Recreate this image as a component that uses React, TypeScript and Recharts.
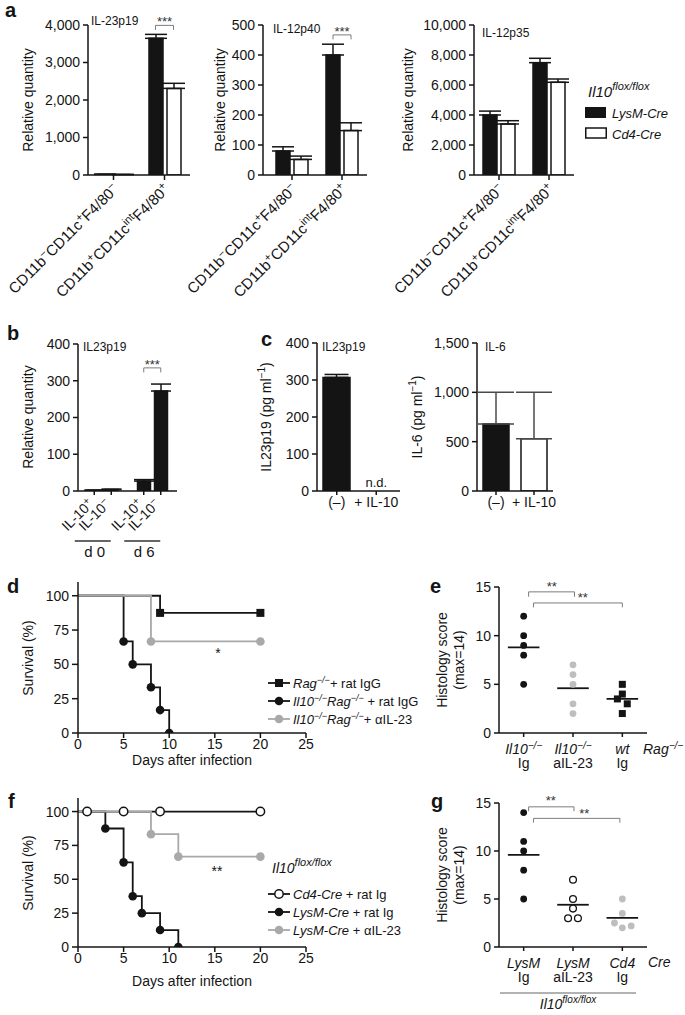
import React from "react";
import {
  BarChart,
  Bar,
  XAxis,
  YAxis,
  ErrorBar,
  Cell,
  ReferenceDot,
  ReferenceLine,
  LineChart,
  Line,
  ScatterChart,
  Scatter,
} from "recharts";

const FONT = "'Liberation Sans', Arial, Helvetica, sans-serif";
const INK = "#141414";
const GREY = "#a9a9a9";
const PALE = "#bebebe";
const BRACKET = "#7c7c7c";

// ---- a: relative quantity in sorted cells (LysM-Cre vs Cd4-Cre)
const CELL_KEYS = ["neg", "pos"];
const P19_LYSM = [18, 3645];
const P19_LYSM_ERR = [4, 105];
const P19_CD4 = [12, 2310];
const P19_CD4_ERR = [3, 135];
const P40_LYSM = [80, 400];
const P40_LYSM_ERR = [14, 36];
const P40_CD4 = [52, 148];
const P40_CD4_ERR = [11, 26];
const P35_LYSM = [4000, 7490];
const P35_LYSM_ERR = [260, 290];
const P35_CD4 = [3400, 6180];
const P35_CD4_ERR = [220, 220];
const TICKS_P19 = [0, 1000, 2000, 3000, 4000];
const TICKS_P40 = [0, 100, 200, 300, 400, 500];
const TICKS_P35 = [0, 2000, 4000, 6000, 8000, 10000];

// ---- b: IL23p19 at day 0 / day 6
const B_DAYS = ["d 0", "d 6"];
const B_POS = [2, 27];
const B_POS_ERR = [0.5, 4];
const B_NEG = [4, 272];
const B_NEG_ERR = [1, 19];
const TICKS_400 = [0, 100, 200, 300, 400];

// ---- c: protein (pg/ml)
const C_TREAT = ["(\u2013)", "+ IL-10"];
const C_P19 = [307, 0];
const C_P19_ERR = [8, 0];
const C_IL6 = [680, 530];
const C_IL6_ERR = [320, 470];
const TICKS_IL6 = [0, 500, 1000, 1500];

// ---- d / f: survival
const DAY_TICKS = [0, 5, 10, 15, 20, 25];
const SURV_TICKS = [0, 25, 50, 75, 100];
const D_RAG_DAYS = [0, 9, 20];
const D_RAG_SURV = [100, 87.5, 87.5];
const D_KO_DAYS = [0, 5, 6, 8, 9, 10];
const D_KO_SURV = [100, 66.7, 50, 33.3, 16.7, 0];
const D_AB_DAYS = [0, 8, 20];
const D_AB_SURV = [100, 66.7, 66.7];
const F_CD4_DAYS = [0, 1, 5, 9, 20];
const F_CD4_SURV = [100, 100, 100, 100, 100];
const F_LYSM_DAYS = [0, 3, 5, 6, 7, 9, 11];
const F_LYSM_SURV = [100, 87.5, 62.5, 37.5, 25, 12.5, 0];
const F_AB_DAYS = [0, 8, 11, 20];
const F_AB_SURV = [100, 83.3, 66.7, 66.7];

// ---- e / g: histology scores
const SCORE_TICKS = [0, 5, 10, 15];
const E_KO_IG = [12, 10, 9, 8, 5];
const E_KO_AB = [7, 6, 5, 3, 2];
const E_WT_IG = [5, 4, 3.5, 3, 2];
const E_WT_JITTER = [0, 0, -0.1, 0.1, 0];
const G_LYSM_IG = [14, 11, 10, 8, 5];
const G_LYSM_AB = [7, 5, 4, 3, 3];
const G_LYSM_AB_JITTER = [0, 0, 0, -0.1, 0.1];
const G_CD4_IG = [5, 3.5, 2.5, 2, 2.2];
const G_CD4_JITTER = [0, 0, -0.16, 0, 0.18];

type Part = { t: string; sup?: boolean; it?: boolean };
const tx = (t: string): Part => ({ t });
const it = (t: string): Part => ({ t, it: true });
const sup = (t: string, itl = false): Part => ({ t, sup: true, it: itl });

const MINUS = "\u2212";
const KO = (): Part[] => [it("Il10"), sup(`${MINUS}/${MINUS}`, true)];
const RAG = (): Part[] => [it("Rag"), sup(`${MINUS}/${MINUS}`, true)];
const FLOX = (): Part[] => [it("Il10"), sup("flox/flox", true)];

const CELL_LABELS: Part[][] = [
  [tx("CD11b"), sup(MINUS), tx("CD11c"), sup("+"), tx("F4/80"), sup(MINUS)],
  [tx("CD11b"), sup("+"), tx("CD11c"), sup("int"), tx("F4/80"), sup("+")],
];
const IL10_LABELS: Part[][] = [
  [tx("IL-10"), sup("+")],
  [tx("IL-10"), sup(MINUS)],
];

function spans(parts: Part[], size: number, supSize = size * 0.72, lift = size * 0.38) {
  let up = false;
  return parts.map((p, i) => {
    const s = !!p.sup;
    const dy = s === up ? 0 : s ? -lift : lift;
    up = s;
    return (
      <tspan key={i} dy={dy} fontSize={s ? supSize : size} fontStyle={p.it ? "italic" : "normal"}>
        {p.t}
      </tspan>
    );
  });
}

function frame(l: number, t: number, r: number, b: number, pl: number, pt: number, pr: number, pb: number) {
  return {
    pos: { position: "absolute" as const, left: l - pl, top: t - pt },
    width: r - l + pl + pr,
    height: b - t + pt + pb,
    margin: { top: pt, right: pr, bottom: 0, left: 0 },
    yW: pl,
    xH: pb,
  };
}

const AXIS = { stroke: INK, strokeWidth: 1.5 };
const TICK = { fontSize: 14, fill: INK, fontFamily: FONT };

function valueAxis(w: number, domain: number[], ticks: number[], size = 5) {
  return (
    <YAxis
      type="number"
      width={w}
      domain={domain}
      ticks={ticks}
      interval={0}
      allowDataOverflow
      axisLine={AXIS}
      tickLine={AXIS}
      tickSize={size}
      tickMargin={3}
      tick={TICK}
      tickFormatter={(v: number) => v.toLocaleString("en-US")}
    />
  );
}

// significance bracket drawn around a category centre
const bracketShape = (half: number, stars: string) => (p: any) => (
  <g>
    <path
      d={`M${p.cx - half},${p.cy + 4.5} V${p.cy} H${p.cx + half} V${p.cy + 4.5}`}
      fill="none"
      stroke={BRACKET}
      strokeWidth={1}
    />
    <text x={p.cx} y={p.cy + 1} textAnchor="middle" fontSize={13} fill="#333" fontFamily={FONT}>
      {stars}
    </text>
  </g>
);

function CellTick({ x, y, payload }: any) {
  const parts = CELL_LABELS[CELL_KEYS.indexOf(payload.value)];
  return (
    <g>
      <line x1={x} x2={x} y1={y} y2={y + 5} stroke={INK} strokeWidth={1.5} />
      <text
        transform={`translate(${x + 6},${y + 15}) rotate(-45)`}
        textAnchor="end"
        fill={INK}
        fontFamily={FONT}
        style={{ whiteSpace: "pre" }}
      >
        {spans(parts, 15, 11, 5.5)}
      </text>
    </g>
  );
}

function ExprPanel({ f, lysm, lysmErr, cd4, cd4Err, domain, ticks, bracket, padL = 0 }: any) {
  const rows = CELL_KEYS.map((cat, i) => ({
    cat,
    lysm: lysm[i],
    lysmErr: [0, lysmErr[i]],
    cd4: cd4[i],
    cd4Err: [0, cd4Err[i]],
  }));
  return (
    <div style={f.pos}>
      <BarChart width={f.width} height={f.height} margin={f.margin} data={rows} barSize={14} barGap={4}>
        <XAxis
          dataKey="cat"
          type="category"
          height={f.xH}
          interval={0}
          tickSize={0}
          tickMargin={0}
          tickLine={false}
          axisLine={AXIS}
          padding={{ left: padL, right: 0 }}
          tick={(p: any) => <CellTick {...p} />}
        />
        {valueAxis(f.yW, domain, ticks)}
        <Bar dataKey="lysm" fill={INK} stroke={INK} strokeWidth={1.5} isAnimationActive={false}>
          <ErrorBar dataKey="lysmErr" width={11} stroke={INK} strokeWidth={1.5} direction="y" isAnimationActive={false} />
        </Bar>
        <Bar dataKey="cd4" fill="#fff" stroke={INK} strokeWidth={1.5} isAnimationActive={false}>
          <ErrorBar dataKey="cd4Err" width={11} stroke={INK} strokeWidth={1.5} direction="y" isAnimationActive={false} />
        </Bar>
        {bracket != null && (
          <ReferenceDot x={CELL_KEYS[1]} y={bracket} r={0} ifOverflow="visible" shape={bracketShape(9, "***")} />
        )}
      </BarChart>
    </div>
  );
}

function DayTick({ x, y, payload }: any) {
  const half = 8.5;
  return (
    <g>
      {[-half, half].map((dx, j) => (
        <g key={j}>
          <line x1={x + dx} x2={x + dx} y1={y} y2={y + 4} stroke={INK} strokeWidth={1.5} />
          <text
            transform={`translate(${x + dx},${y + 14}) rotate(-45)`}
            textAnchor="end"
            fill={INK}
            fontFamily={FONT}
          >
            {spans(IL10_LABELS[j], 14, 10, 5)}
          </text>
        </g>
      ))}
      <line x1={x - 28} x2={x + 8} y1={y + 50} y2={y + 50} stroke="#333" strokeWidth={1.5} />
      <text x={x - 8} y={y + 66} textAnchor="middle" fontSize={15} fill={INK} fontFamily={FONT}>
        {payload.value}
      </text>
    </g>
  );
}

function TreatTick({ x, y, payload }: any) {
  return (
    <g>
      <line x1={x} x2={x} y1={y} y2={y + 4} stroke={INK} strokeWidth={1.5} />
      <text x={x} y={y + 16} textAnchor="middle" fontSize={14} fill={INK} fontFamily={FONT}>
        {payload.value}
      </text>
    </g>
  );
}

function CytokinePanel({ f, values, errs, fills, domain, ticks, barSize, capW, errColor, padR = 0, nd = false }: any) {
  const rows = C_TREAT.map((cat, i) => ({ cat, v: values[i], err: [0, errs[i]] }));
  return (
    <div style={f.pos}>
      <BarChart width={f.width} height={f.height} margin={f.margin} data={rows} barSize={barSize}>
        <XAxis
          dataKey="cat"
          type="category"
          height={f.xH}
          interval={0}
          tickSize={0}
          tickMargin={0}
          tickLine={false}
          axisLine={AXIS}
          padding={{ left: 0, right: padR }}
          tick={(p: any) => <TreatTick {...p} />}
        />
        {valueAxis(f.yW, domain, ticks)}
        <Bar dataKey="v" stroke={INK} strokeWidth={1.5} isAnimationActive={false}>
          {rows.map((r, i) => (
            <Cell key={r.cat} fill={fills[i]} />
          ))}
          <ErrorBar dataKey="err" width={capW} stroke={errColor} strokeWidth={1.5} direction="y" isAnimationActive={false} />
        </Bar>
        {nd && (
          <ReferenceDot
            x={C_TREAT[1]}
            y={0}
            r={0}
            ifOverflow="visible"
            shape={(p: any) => (
              <text x={p.cx} y={p.cy - 4} textAnchor="middle" fontSize={13} fill={INK} fontFamily={FONT}>
                n.d.
              </text>
            )}
          />
        )}
      </BarChart>
    </div>
  );
}

type Kind = "circle" | "square" | "open";
function marker(kind: Kind, color: string, cx: number, cy: number, key?: string) {
  if (kind === "square") return <rect key={key} x={cx - 4} y={cy - 4} width={8} height={8} fill={color} />;
  if (kind === "open")
    return <circle key={key} cx={cx} cy={cy} r={4.2} fill="#fff" stroke={color} strokeWidth={1.5} />;
  return <circle key={key} cx={cx} cy={cy} r={4.3} fill={color} />;
}

type Curve = { days: number[]; surv: number[]; color: string; kind: Kind };

function SurvivalPanel({ f, curves }: { f: any; curves: Curve[] }) {
  return (
    <div style={f.pos}>
      <LineChart width={f.width} height={f.height} margin={f.margin}>
        <XAxis
          type="number"
          dataKey="day"
          domain={[0, 25]}
          ticks={DAY_TICKS}
          interval={0}
          height={f.xH}
          axisLine={AXIS}
          tickLine={AXIS}
          tickSize={5}
          tickMargin={1}
          tick={TICK}
        />
        {valueAxis(f.yW, [0, 110], SURV_TICKS, 6)}
        {curves.map((c, ci) => (
          <Line
            key={ci}
            data={c.days.map((day, i) => ({ day, surv: c.surv[i] }))}
            dataKey="surv"
            type="stepAfter"
            stroke={c.color}
            strokeWidth={1.8}
            isAnimationActive={false}
            activeDot={false}
            dot={(p: any) =>
              p.index === 0 ? <g key={`e${ci}-${p.index}`} /> : marker(c.kind, c.color, p.cx, p.cy, `m${ci}-${p.index}`)
            }
          />
        ))}
      </LineChart>
    </div>
  );
}

type Group = { values: number[]; jitter?: number[]; shape: (p: any) => any };
type Bracket = { x1: number; x2: number; y: number; drop: number; sx: number; sy: number };

function ScorePanel({ f, groups, top, bottom, brackets }: { f: any; groups: Group[]; top: Part[][]; bottom: string[]; brackets: Bracket[] }) {
  return (
    <div style={f.pos}>
      <ScatterChart width={f.width} height={f.height} margin={f.margin}>
        <XAxis
          type="number"
          dataKey="x"
          domain={[0.5, 3.5]}
          ticks={[1, 2, 3]}
          interval={0}
          height={f.xH}
          axisLine={AXIS}
          tickLine={false}
          tickSize={0}
          tickMargin={0}
          tick={(p: any) => {
            const i = p.payload.value - 1;
            return (
              <g>
                <line x1={p.x} x2={p.x} y1={p.y} y2={p.y + 4} stroke={INK} strokeWidth={1.5} />
                <text x={p.x} y={p.y + 21} textAnchor="middle" fill={INK} fontFamily={FONT}>
                  {spans(top[i], 14, 10, 5)}
                </text>
                <text x={p.x} y={p.y + 35} textAnchor="middle" fontSize={14} fill={INK} fontFamily={FONT}>
                  {bottom[i]}
                </text>
              </g>
            );
          }}
        />
        <YAxis
          type="number"
          dataKey="y"
          width={f.yW}
          domain={[0, 15]}
          ticks={SCORE_TICKS}
          interval={0}
          axisLine={AXIS}
          tickLine={AXIS}
          tickSize={5}
          tickMargin={3}
          tick={TICK}
        />
        {groups.map((g, gi) => (
          <Scatter
            key={gi}
            data={g.values.map((y, i) => ({ x: gi + 1 + (g.jitter ? g.jitter[i] : 0), y }))}
            shape={g.shape}
            isAnimationActive={false}
          />
        ))}
        {groups.map((g, gi) => {
          const m = g.values.reduce((s, v) => s + v, 0) / g.values.length;
          return (
            <ReferenceLine
              key={`m${gi}`}
              segment={[
                { x: gi + 1 - 0.32, y: m },
                { x: gi + 1 + 0.32, y: m },
              ]}
              stroke={INK}
              strokeWidth={1.8}
            />
          );
        })}
        {brackets.map((b, bi) => [
          <ReferenceLine key={`h${bi}`} segment={[{ x: b.x1, y: b.y }, { x: b.x2, y: b.y }]} stroke={BRACKET} strokeWidth={1} />,
          <ReferenceLine key={`l${bi}`} segment={[{ x: b.x1, y: b.y }, { x: b.x1, y: b.y - b.drop }]} stroke={BRACKET} strokeWidth={1} />,
          <ReferenceLine key={`r${bi}`} segment={[{ x: b.x2, y: b.y }, { x: b.x2, y: b.y - b.drop }]} stroke={BRACKET} strokeWidth={1} />,
          <ReferenceDot
            key={`s${bi}`}
            x={b.sx}
            y={b.sy}
            r={0}
            ifOverflow="visible"
            shape={(p: any) => (
              <text x={p.cx} y={p.cy + 7} textAnchor="middle" fontSize={13} fill="#333" fontFamily={FONT}>
                **
              </text>
            )}
          />,
        ])}
      </ScatterChart>
    </div>
  );
}

const dotShape = (fill: string, r = 3.4) => (p: any) => <circle cx={p.cx} cy={p.cy} r={r} fill={fill} />;
const squareShape = (fill: string) => (p: any) => <rect x={p.cx - 3.5} y={p.cy - 3.5} width={7} height={7} fill={fill} />;
const ringShape = (stroke: string) => (p: any) => (
  <circle cx={p.cx} cy={p.cy} r={3.4} fill="#fff" stroke={stroke} strokeWidth={1.3} />
);

function Txt({ x, y, parts, size = 14, supSize, lift, anchor = "start", rot = false, bold = false }: any) {
  return (
    <text
      x={x}
      y={y}
      textAnchor={rot ? "middle" : anchor}
      dominantBaseline={rot ? "central" : undefined}
      transform={rot ? `rotate(-90 ${x} ${y})` : undefined}
      fill={INK}
      fontFamily={FONT}
      fontWeight={bold ? "bold" : "normal"}
      style={{ whiteSpace: "pre" }}
    >
      {spans(parts, size, supSize, lift)}
    </text>
  );
}

function LegendRow({ y, color, kind, parts }: { y: number; color: string; kind: Kind; parts: Part[] }) {
  return (
    <g>
      <line x1={268} x2={290} y1={y} y2={y} stroke={color} strokeWidth={1.8} />
      {marker(kind, color, 279, y)}
      <Txt x={293} y={y + 4.5} parts={parts} size={13} supSize={9} lift={5} />
    </g>
  );
}

export default function App() {
  const fA1 = frame(88, 25, 190, 175, 88, 12, 6, 130);
  const fA2 = frame(263, 25, 367, 175, 96, 12, 6, 130);
  const fA3 = frame(474, 25, 574, 175, 96, 12, 6, 130);
  const fB = frame(78, 344, 177, 491, 78, 12, 6, 75);
  const fC1 = frame(317, 343, 400, 491, 52, 10, 6, 30);
  const fC2 = frame(477, 343, 553, 491, 56, 10, 6, 30);
  const fD = frame(78, 582, 306, 733, 78, 6, 12, 45);
  const fE = frame(499, 587, 647, 733, 48, 12, 6, 42);
  const fF = frame(78, 798, 306, 947, 78, 6, 12, 45);
  const fG = frame(499, 803, 647, 947, 48, 12, 6, 68);

  const bRows = B_DAYS.map((cat, i) => ({
    cat,
    pos: B_POS[i],
    posErr: [0, B_POS_ERR[i]],
    neg: B_NEG[i],
    negErr: [0, B_NEG_ERR[i]],
  }));

  return (
    <div style={{ position: "absolute", left: 0, top: 0, width: 685, height: 1015, background: "#fff", fontFamily: FONT }}>
      <ExprPanel f={fA1} lysm={P19_LYSM} lysmErr={P19_LYSM_ERR} cd4={P19_CD4} cd4Err={P19_CD4_ERR} domain={[0, 4000]} ticks={TICKS_P19} bracket={3990} />
      <ExprPanel f={fA2} lysm={P40_LYSM} lysmErr={P40_LYSM_ERR} cd4={P40_CD4} cd4Err={P40_CD4_ERR} domain={[0, 500]} ticks={TICKS_P40} bracket={467} padL={4} />
      <ExprPanel f={fA3} lysm={P35_LYSM} lysmErr={P35_LYSM_ERR} cd4={P35_CD4} cd4Err={P35_CD4_ERR} domain={[0, 10000]} ticks={TICKS_P35} />

      <div style={fB.pos}>
        <BarChart width={fB.width} height={fB.height} margin={fB.margin} data={bRows} barSize={13} barGap={4}>
          <XAxis
            dataKey="cat"
            type="category"
            height={fB.xH}
            interval={0}
            tickSize={0}
            tickMargin={0}
            tickLine={false}
            axisLine={AXIS}
            tick={(p: any) => <DayTick {...p} />}
          />
          {valueAxis(fB.yW, [0, 400], TICKS_400)}
          <Bar dataKey="pos" fill={INK} stroke={INK} strokeWidth={1.5} isAnimationActive={false}>
            <ErrorBar dataKey="posErr" width={10} stroke={INK} strokeWidth={1.5} direction="y" isAnimationActive={false} />
          </Bar>
          <Bar dataKey="neg" fill={INK} stroke={INK} strokeWidth={1.5} isAnimationActive={false}>
            <ErrorBar dataKey="negErr" width={10} stroke={INK} strokeWidth={1.5} direction="y" isAnimationActive={false} />
          </Bar>
          <ReferenceDot x={B_DAYS[1]} y={335} r={0} ifOverflow="visible" shape={bracketShape(8.5, "***")} />
        </BarChart>
      </div>

      <CytokinePanel f={fC1} values={C_P19} errs={C_P19_ERR} fills={[INK, INK]} domain={[0, 400]} ticks={TICKS_400} barSize={27} capW={12} errColor={INK} padR={4} nd />
      <CytokinePanel f={fC2} values={C_IL6} errs={C_IL6_ERR} fills={[INK, "#fff"]} domain={[0, 1500]} ticks={TICKS_IL6} barSize={26} capW={18} errColor="#4a4a4a" />

      <SurvivalPanel
        f={fD}
        curves={[
          { days: D_RAG_DAYS, surv: D_RAG_SURV, color: INK, kind: "square" },
          { days: D_KO_DAYS, surv: D_KO_SURV, color: INK, kind: "circle" },
          { days: D_AB_DAYS, surv: D_AB_SURV, color: GREY, kind: "circle" },
        ]}
      />
      <SurvivalPanel
        f={fF}
        curves={[
          { days: F_CD4_DAYS, surv: F_CD4_SURV, color: INK, kind: "open" },
          { days: F_LYSM_DAYS, surv: F_LYSM_SURV, color: INK, kind: "circle" },
          { days: F_AB_DAYS, surv: F_AB_SURV, color: GREY, kind: "circle" },
        ]}
      />

      <ScorePanel
        f={fE}
        groups={[
          { values: E_KO_IG, shape: dotShape(INK) },
          { values: E_KO_AB, shape: dotShape(PALE) },
          { values: E_WT_IG, jitter: E_WT_JITTER, shape: squareShape(INK) },
        ]}
        top={[KO(), KO(), [it("wt")]]}
        bottom={["Ig", "aIL-23", "Ig"]}
        brackets={[
          { x1: 1.1, x2: 2.03, y: 14.5, drop: 0.5, sx: 1.57, sy: 15.3 },
          { x1: 1.2, x2: 3.0, y: 13.36, drop: 0.45, sx: 2.2, sy: 14.2 },
        ]}
      />
      <ScorePanel
        f={fG}
        groups={[
          { values: G_LYSM_IG, shape: dotShape(INK) },
          { values: G_LYSM_AB, jitter: G_LYSM_AB_JITTER, shape: ringShape(INK) },
          { values: G_CD4_IG, jitter: G_CD4_JITTER, shape: dotShape(PALE) },
        ]}
        top={[[it("LysM")], [it("LysM")], [it("Cd4")]]}
        bottom={["Ig", "aIL-23", "Ig"]}
        brackets={[
          { x1: 1.1, x2: 2.02, y: 14.6, drop: 0.45, sx: 1.55, sy: 15.5 },
          { x1: 1.2, x2: 2.95, y: 13.4, drop: 0.45, sx: 2.23, sy: 14.2 },
        ]}
      />

      <svg width={685} height={1015} style={{ position: "absolute", left: 0, top: 0, pointerEvents: "none" }}>
        {/* panel letters */}
        <Txt x={5} y={17} parts={[tx("a")]} size={20} bold />
        <Txt x={7} y={340} parts={[tx("b")]} size={20} bold />
        <Txt x={261} y={346} parts={[tx("c")]} size={20} bold />
        <Txt x={7} y={593} parts={[tx("d")]} size={20} bold />
        <Txt x={430} y={593} parts={[tx("e")]} size={20} bold />
        <Txt x={8} y={808} parts={[tx("f")]} size={20} bold />
        <Txt x={431} y={808} parts={[tx("g")]} size={20} bold />

        {/* titles inside plots */}
        <Txt x={91} y={25} parts={[tx("IL-23p19")]} size={12} />
        <Txt x={273} y={33} parts={[tx("IL-12p40")]} size={12} />
        <Txt x={482} y={37} parts={[tx("IL-12p35")]} size={12} />
        <Txt x={83} y={351} parts={[tx("IL23p19")]} size={12} />
        <Txt x={322} y={351} parts={[tx("IL23p19")]} size={12} />
        <Txt x={485} y={351} parts={[tx("IL-6")]} size={12} />

        {/* axis titles */}
        <Txt x={28} y={100} parts={[tx("Relative quantity")]} rot />
        <Txt x={220} y={100} parts={[tx("Relative quantity")]} rot />
        <Txt x={408} y={100} parts={[tx("Relative quantity")]} rot />
        <Txt x={28} y={417} parts={[tx("Relative quantity")]} rot />
        <Txt x={266} y={417} parts={[tx("IL23p19 (pg ml"), sup(`${MINUS}1`), tx(")")]} rot supSize={10} lift={5} />
        <Txt x={417} y={417} parts={[tx("IL-6 (pg ml"), sup(`${MINUS}1`), tx(")")]} rot supSize={10} lift={5} />
        <Txt x={28} y={658} parts={[tx("Survival (%)")]} rot />
        <Txt x={28} y={873} parts={[tx("Survival (%)")]} rot />
        <Txt x={192} y={765} parts={[tx("Days after infection")]} anchor="middle" />
        <Txt x={192} y={986} parts={[tx("Days after infection")]} anchor="middle" />
        <Txt x={442} y={660} parts={[tx("Histology score")]} rot />
        <Txt x={459} y={660} parts={[tx("(max=14)")]} rot />
        <Txt x={442} y={875} parts={[tx("Histology score")]} rot />
        <Txt x={459} y={875} parts={[tx("(max=14)")]} rot />

        {/* a legend */}
        <Txt x={588} y={97} parts={FLOX()} size={15} supSize={11} lift={7} />
        <rect x={585} y={107} width={21} height={11} fill={INK} />
        <Txt x={612} y={118} parts={[it("LysM-Cre")]} size={13} />
        <rect x={585.75} y={128} width={20.5} height={10} fill="#fff" stroke={INK} strokeWidth={1.5} />
        <Txt x={612} y={139} parts={[it("Cd4-Cre")]} size={13} />

        {/* d legend + star */}
        <LegendRow y={683} color={INK} kind="square" parts={[...RAG(), tx("+ rat IgG")]} />
        <LegendRow y={701} color={INK} kind="circle" parts={[...KO(), ...RAG(), tx(" + rat IgG")]} />
        <LegendRow y={719} color={GREY} kind="circle" parts={[...KO(), ...RAG(), tx("+ \u03b1IL-23")]} />
        <Txt x={218} y={658} parts={[tx("*")]} anchor="middle" />

        {/* f legend + stars */}
        <Txt x={272} y={873} parts={FLOX()} size={14} supSize={11} lift={7} />
        <LegendRow y={894} color={INK} kind="open" parts={[it("Cd4-Cre"), tx(" + rat Ig")]} />
        <LegendRow y={912} color={INK} kind="circle" parts={[it("LysM-Cre"), tx(" + rat Ig")]} />
        <LegendRow y={930} color={GREY} kind="circle" parts={[it("LysM-Cre"), tx(" + \u03b1IL-23")]} />
        <Txt x={217} y={876} parts={[tx("**")]} anchor="middle" />

        {/* e / g side labels */}
        <Txt x={643} y={754} parts={RAG()} size={14} supSize={10} lift={5} />
        <Txt x={648} y={967} parts={[it("Cre")]} size={14} />
        <line x1={500} x2={636} y1={993} y2={993} stroke="#666" strokeWidth={1.2} />
        <Txt x={568} y={1009} parts={FLOX()} size={14} supSize={10} lift={6} anchor="middle" />
      </svg>
    </div>
  );
}
